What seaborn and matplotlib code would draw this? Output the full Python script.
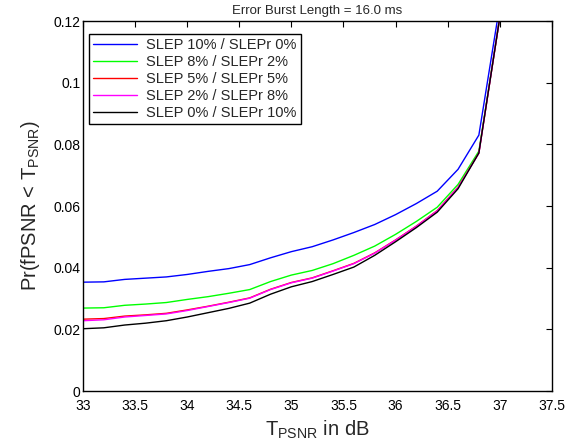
import numpy as np
import pandas as pd
import matplotlib
matplotlib.use("Agg")
import matplotlib.pyplot as plt
from matplotlib.ticker import FormatStrFormatter
import seaborn as sns

# threshold values (dB)
t_psnr = [33.0, 33.2, 33.4, 33.6, 33.8, 34.0, 34.2, 34.4, 34.6, 34.8, 35.0,
          35.2, 35.4, 35.6, 35.8, 36.0, 36.2, 36.4, 36.6, 36.8, 37.0]

slep10_r0 = [0.0353, 0.0354, 0.0362, 0.0366, 0.0370, 0.0378, 0.0388, 0.0397, 0.0410, 0.0432, 0.0452,
             0.0468, 0.0490, 0.0514, 0.0540, 0.0572, 0.0608, 0.0648, 0.0719, 0.0830, 0.1250]
slep8_r2 = [0.0269, 0.0270, 0.0278, 0.0282, 0.0287, 0.0297, 0.0306, 0.0317, 0.0329, 0.0355, 0.0376,
            0.0391, 0.0413, 0.0440, 0.0470, 0.0508, 0.0550, 0.0596, 0.0670, 0.0778, 0.1210]
slep5_r5 = [0.0233, 0.0235, 0.0243, 0.0247, 0.0252, 0.0263, 0.0275, 0.0288, 0.0302, 0.0330, 0.0352,
            0.0367, 0.0390, 0.0414, 0.0448, 0.0490, 0.0535, 0.0585, 0.0661, 0.0772, 0.1210]
slep2_r8 = [0.0228, 0.0231, 0.0240, 0.0245, 0.0250, 0.0261, 0.0274, 0.0287, 0.0301, 0.0329, 0.0351,
            0.0366, 0.0389, 0.0413, 0.0447, 0.0489, 0.0534, 0.0584, 0.0660, 0.0771, 0.1210]
slep0_r10 = [0.0202, 0.0205, 0.0214, 0.0220, 0.0228, 0.0240, 0.0254, 0.0268, 0.0285, 0.0314, 0.0338,
             0.0355, 0.0378, 0.0402, 0.0440, 0.0484, 0.0530, 0.0580, 0.0656, 0.0772, 0.1210]

labels = ["SLEP 10% / SLEPr 0%", "SLEP 8% / SLEPr 2%", "SLEP 5% / SLEPr 5%",
          "SLEP 2% / SLEPr 8%", "SLEP 0% / SLEPr 10%"]
series = [slep10_r0, slep8_r2, slep5_r5, slep2_r8, slep0_r10]
colors = ["#0000ff", "#00ff00", "#ff0000", "#ff00ff", "#000000"]

df = pd.concat([pd.DataFrame({"t": t_psnr, "p": s, "scheme": lab})
                for s, lab in zip(series, labels)], ignore_index=True)

sns.set_style("white")
plt.rcParams["font.family"] = ["Liberation Sans", "DejaVu Sans"]

fig = plt.figure(figsize=(5.79, 4.48), dpi=100)
ax = fig.add_axes([0.1434, 0.1272, 0.8096, 0.8259])

sns.lineplot(data=df, x="t", y="p", hue="scheme", hue_order=labels,
             palette=dict(zip(labels, colors)), sort=False, estimator=None,
             linewidth=1.0, ax=ax)

ax.set_xlim(33, 37.5)
ax.set_ylim(0, 0.12)
ax.set_xticks(np.arange(33, 37.51, 0.5))
ax.set_yticks(np.arange(0, 0.121, 0.02))
ax.xaxis.set_major_formatter(FormatStrFormatter("%g"))
ax.yaxis.set_major_formatter(FormatStrFormatter("%g"))
ax.tick_params(direction="in", length=4, width=0.8, top=True, right=True,
               labelsize=10, colors="black", pad=2)
ax.tick_params(axis="x", pad=6)
for sp in ax.spines.values():
    sp.set_color("black")
    sp.set_linewidth(1.0)

ax.set_title("Error Burst Length = 16.0 ms", fontsize=9.5, pad=5)
ax.set_xlabel("T$_\\mathregular{PSNR}$ in dB", fontsize=14.5, labelpad=4)
ax.set_ylabel("Pr(fPSNR < T$_\\mathregular{PSNR}$)", fontsize=14.5, labelpad=8)

leg = ax.legend(loc="upper left", bbox_to_anchor=(0.013, 0.965), fontsize=10.5,
                frameon=True, fancybox=False, edgecolor="black", framealpha=1,
                handlelength=3.0, borderaxespad=0, labelspacing=0.2,
                handletextpad=0.6, borderpad=0.3)
leg.get_frame().set_linewidth(1.0)

fig.savefig("out.png", dpi=100)
